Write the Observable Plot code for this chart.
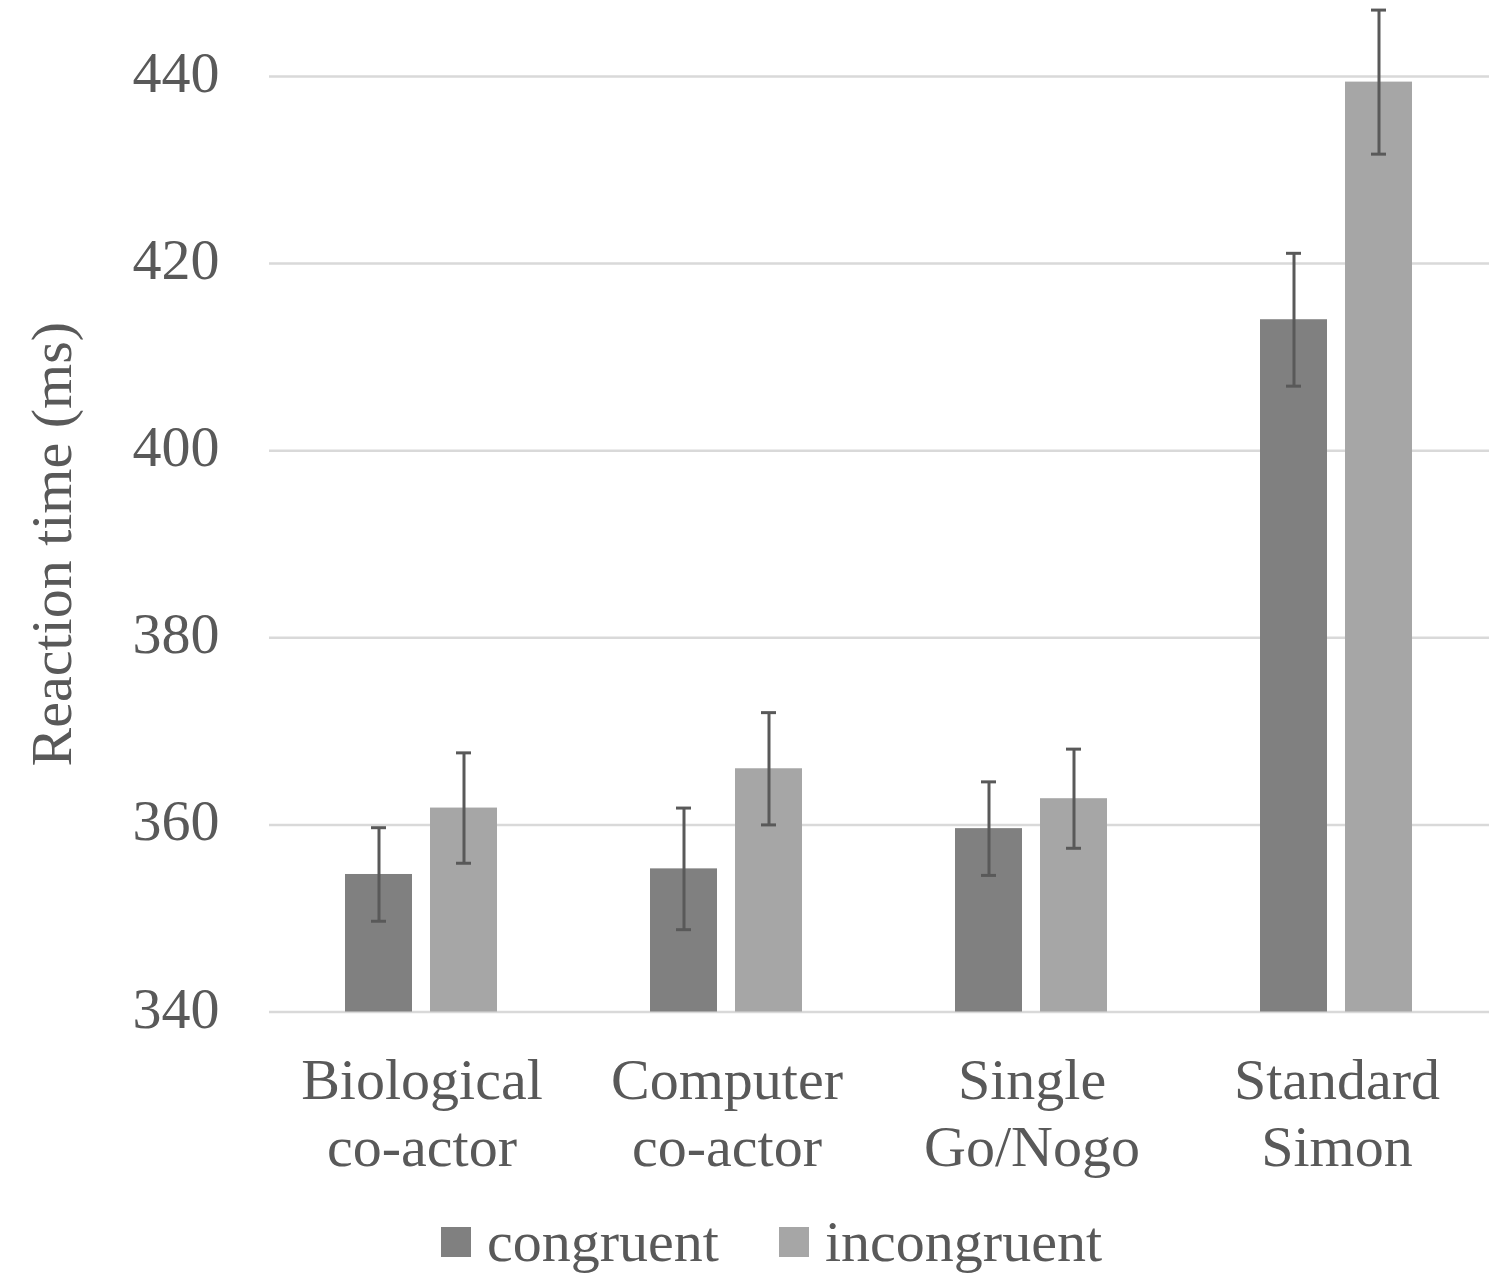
<!DOCTYPE html>
<html>
<head>
<meta charset="utf-8">
<script src="https://cdn.jsdelivr.net/npm/d3@7"></script>
<script src="https://cdn.jsdelivr.net/npm/@observablehq/plot@0.6"></script>
<style>
  html, body { margin: 0; padding: 0; background: #ffffff; }
  body { width: 1500px; font-family: "Liberation Serif", "Times New Roman", serif; color: #595959; }
  #legend { position: relative; height: 90px; }
  .item { position: absolute; top: 0; display: flex; align-items: center; font-size: 58px; line-height: 1; }
  .swatch { width: 30px; height: 30px; margin-right: 16px; }
</style>
</head>
<body>
<div id="chart"></div>
<div id="legend"></div>
<script>
const categories = ["Biological\nco-actor", "Computer\nco-actor", "Single\nGo/Nogo", "Standard\nSimon"];
const conditions = ["congruent", "incongruent"];
const congruentMeans = [354.7, 355.3, 359.6, 414.0];
const congruentErrors = [5.0, 6.5, 5.0, 7.1];
const incongruentMeans = [361.8, 366.0, 362.8, 439.4];
const incongruentErrors = [5.9, 6.0, 5.3, 7.7];
const yTicks = [340, 360, 380, 400, 420, 440];
const colors = ["#808080", "#a6a6a6"];

const data = categories.flatMap((c, i) => [
  {cat: c, cond: conditions[0], mean: congruentMeans[i], err: congruentErrors[i]},
  {cat: c, cond: conditions[1], mean: incongruentMeans[i], err: incongruentErrors[i]}
]);

const H = 1190;
const chart = Plot.plot({
  width: 1500,
  height: H,
  marginLeft: 268,
  marginRight: 11,
  marginTop: 76,
  marginBottom: H - 1011.5,
  style: {fontFamily: "Liberation Serif", color: "#595959", background: "white", overflow: "visible"},
  fx: {domain: categories, padding: 0, label: null},
  x: {domain: conditions, axis: null, paddingInner: 0.209, paddingOuter: 0.879},
  y: {domain: [340, 440]},
  color: {domain: conditions, range: colors},
  marks: [
    Plot.gridY(yTicks, {stroke: "#d9d9d9", strokeOpacity: 1, strokeWidth: 2.5}),
    Plot.barY(data, {fx: "cat", x: "cond", y1: 340, y2: "mean", fill: "cond"}),
    Plot.ruleX(data, {fx: "cat", x: "cond", y1: d => d.mean - d.err, y2: d => d.mean + d.err, stroke: "#595959", strokeWidth: 3}),
    Plot.tickY(data, {fx: "cat", x: "cond", y: d => d.mean - d.err, insetLeft: 26, insetRight: 26, stroke: "#595959", strokeWidth: 3}),
    Plot.tickY(data, {fx: "cat", x: "cond", y: d => d.mean + d.err, insetLeft: 26, insetRight: 26, stroke: "#595959", strokeWidth: 3}),
    Plot.axisY(yTicks, {tickSize: 0, tickPadding: 50, fontSize: 58, fill: "#595959", dy: -3,
      label: "Reaction time (ms)", labelAnchor: "center", labelArrow: "none", labelOffset: 240}),
    Plot.axisFx({anchor: "bottom", tickSize: 0, tickPadding: 39, fontSize: 58, lineHeight: 1.16, fill: "#595959", label: null})
  ]
});
document.getElementById("chart").appendChild(chart);

const legend = document.getElementById("legend");
const lefts = [441, 779];
conditions.forEach((c, i) => {
  const item = document.createElement("div");
  item.className = "item";
  item.style.left = lefts[i] + "px";
  item.style.top = "23px";
  const sw = document.createElement("div");
  sw.className = "swatch";
  sw.style.background = colors[i];
  const t = document.createElement("span");
  t.textContent = c;
  item.appendChild(sw);
  item.appendChild(t);
  legend.appendChild(item);
});
</script>
</body>
</html>
